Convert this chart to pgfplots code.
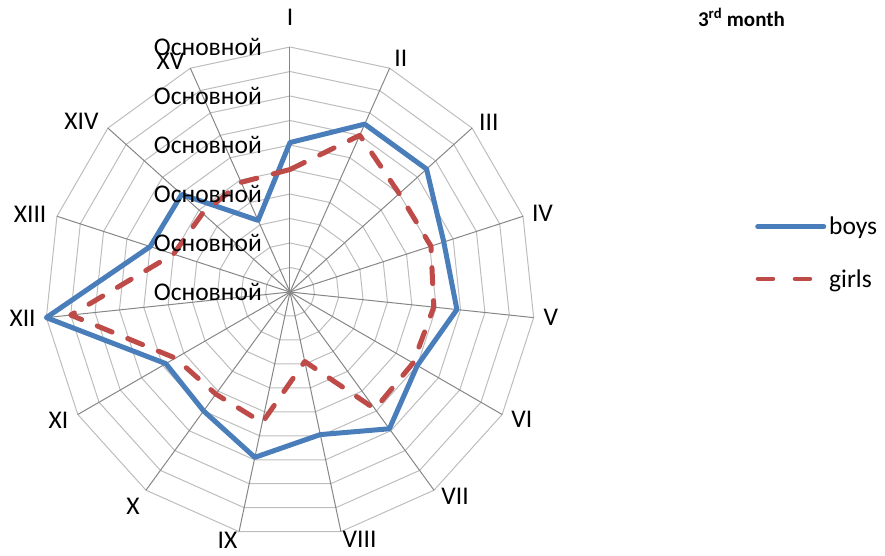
\documentclass[border=0pt]{standalone}
\usepackage{fontspec}
\setmainfont{Carlito}
\usepackage{pgfplots}
\pgfplotsset{compat=1.18}
\usepgfplotslibrary{polar}
\usepackage{pgfplotstable}

\definecolor{boysblue}{HTML}{4A7EBB}
\definecolor{girlsred}{HTML}{BE4B48}
\definecolor{spokegray}{HTML}{868686}
\definecolor{ringgray}{HTML}{BDBDBD}

% angle (deg), value on a 0--10 scale
\pgfplotstableread{
angle boys girls
90    6.1   5.0
66    7.5   7.0
42    7.5   6.0
18    6.6   6.05
-6    6.85  5.9
-30   6.0   5.8
-54   6.9   5.9
-78   5.95  2.9
-102  6.9   5.45
-126  6.0   5.15
-150  5.85  5.4
-174  10.0  9.0
-198  6.0   5.0
-222  5.95  4.8
-246  3.2   4.9
-270  6.1   5.0
}\radardata

\begin{document}
\begin{tikzpicture}[font=\fontsize{25.5bp}{30bp}\selectfont]
\path[use as bounding box] (-290bp,292bp) rectangle (595bp,-264bp);
\begin{polaraxis}[
  at={(0,0)}, anchor=origin,
  width=490bp, height=490bp, scale only axis,
  xmin=0, xmax=360, ymin=0, ymax=10,
  axis line style={draw=none},
  xtick=\empty, ytick=\empty, grid=none,
  clip=false,
  legend style={at={(1.449,0.58)}, anchor=west, draw=none, fill=none,
    inner sep=0pt, row sep=27bp, nodes={inner sep=3bp},
    font=\fontsize{25.5bp}{30bp}\selectfont},
  legend cell align=left,
  legend image code/.code={\draw[#1, line cap=round] (2bp,0bp) -- (68bp,0bp);},
]
% polygonal rings
\pgfplotsinvokeforeach{1,...,10}{
  \addplot[ringgray, line width=1bp, forget plot] coordinates {(90,#1) (66,#1) (42,#1) (18,#1) (-6,#1) (-30,#1) (-54,#1) (-78,#1) (-102,#1) (-126,#1) (-150,#1) (-174,#1) (-198,#1) (-222,#1) (-246,#1) (-270,#1)};
}
% spokes
\pgfplotsinvokeforeach{90,66,42,18,-6,-30,-54,-78,-102,-126,-150,-174,-198,-222,-246}{
  \addplot[spokegray, line width=1bp, forget plot] coordinates {(#1,0) (#1,10)};
}
\addplot[boysblue, line width=5bp, line join=round, line cap=round] table[x=angle, y=boys] {\radardata};
\addlegendentry{boys}
\addplot[girlsred, line width=5bp, line join=round, line cap=round, dash pattern=on 16bp off 17bp,
  legend image code/.code={\draw[girlsred, line width=4.5bp, line cap=round, dash pattern=on 15bp off 22bp] (2.25bp,0bp) -- (68bp,0bp);}] table[x=angle, y=girls] {\radardata};
\addlegendentry{girls}

% category labels
\node at (axis cs:90,11.2) {I};
\node at (axis cs:64.6,10.55) {II};
\node at (axis cs:40.4,10.66) {III};
\node at (axis cs:17.4,10.8) {IV};
\node at (axis cs:-5.5,10.7) {V};
\node at (axis cs:-28.8,10.8) {VI};
\node at (axis cs:-51.1,10.73) {VII};
\node at (axis cs:-74.3,10.5) {VIII};
\node at (axis cs:-104.1,10.47) {IX};
\node at (axis cs:-126.3,10.83) {X};
\node at (axis cs:-151,10.8) {XI};
\node at (axis cs:-174.3,10.97) {XII};
\node at (axis cs:163.4,11.07) {XIII};
\node at (axis cs:140.7,11.0) {XIV};
\node at (axis cs:117.4,10.6) {XV};
% radial labels
\pgfplotsinvokeforeach{0,2,4,6,8,10}{
  \node[anchor=east, inner sep=0pt, xshift=-28bp] at (axis cs:90,#1) {Основной};
}
\end{polaraxis}
\node[font=\bfseries\fontsize{21bp}{24bp}\selectfont] at (451.5bp,274.7bp) {3\textsuperscript{rd} month};
\end{tikzpicture}
\end{document}
